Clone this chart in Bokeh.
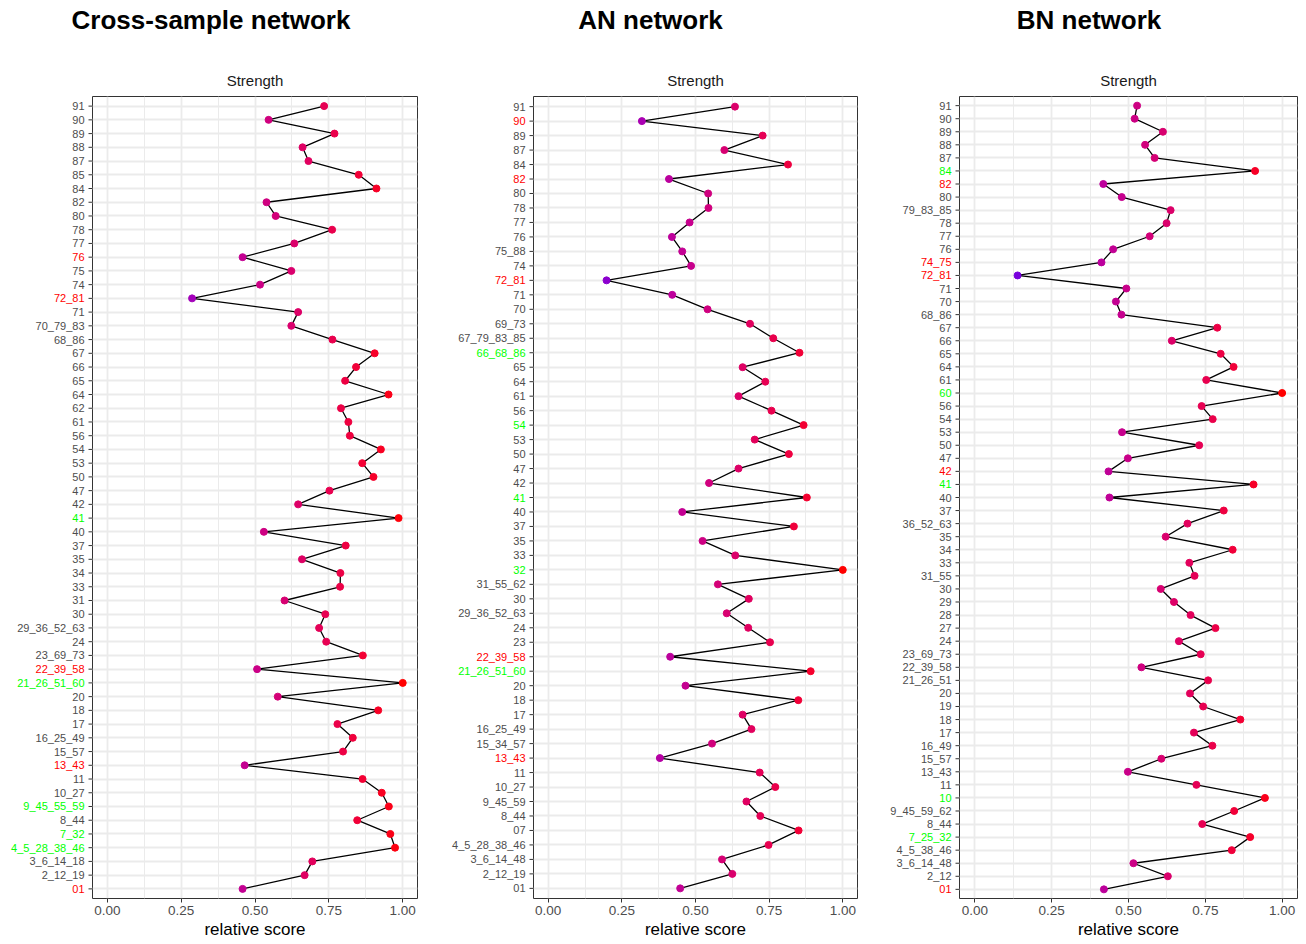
import numpy as np
from bokeh.plotting import figure
from bokeh.layouts import row, column
from bokeh.models import (ColumnDataSource, Range1d, FactorRange, Grid, CategoricalTicker,
                          FixedTicker, NumeralTickFormatter)
from bokeh.core.properties import value, field
from bokeh.embed import file_html
from bokeh.resources import INLINE

# ---------------- data (top-to-bottom as displayed) ----------------
cs_nodes = ["91", "90", "89", "88", "87", "85", "84", "82", "80", "78", "77", "76", "75", "74",
            "72_81", "71", "70_79_83", "68_86", "67", "66", "65", "64", "62", "61", "56", "54",
            "53", "50", "47", "42", "41", "40", "37", "35", "34", "33", "31", "30", "29_36_52_63",
            "24", "23_69_73", "22_39_58", "21_26_51_60", "20", "18", "17", "16_25_49", "15_57",
            "13_43", "11", "10_27", "9_45_55_59", "8_44", "7_32", "4_5_28_38_46", "3_6_14_18",
            "2_12_19", "01"]
cs_strength = [0.734, 0.546, 0.769, 0.661, 0.681, 0.851, 0.911, 0.539, 0.570, 0.761, 0.633,
               0.458, 0.623, 0.517, 0.287, 0.646, 0.623, 0.762, 0.905, 0.842, 0.805, 0.952,
               0.791, 0.816, 0.821, 0.926, 0.863, 0.901, 0.752, 0.646, 0.986, 0.530, 0.807,
               0.659, 0.789, 0.788, 0.600, 0.738, 0.717, 0.741, 0.865, 0.507, 1.000, 0.577,
               0.917, 0.779, 0.831, 0.798, 0.465, 0.864, 0.929, 0.953, 0.846, 0.958, 0.974,
               0.694, 0.668, 0.458]
cs_red = ["76", "72_81", "22_39_58", "13_43", "01"]
cs_green = ["41", "21_26_51_60", "9_45_55_59", "7_32", "4_5_28_38_46"]

an_nodes = ["91", "90", "89", "87", "84", "82", "80", "78", "77", "76", "75_88", "74", "72_81",
            "71", "70", "69_73", "67_79_83_85", "66_68_86", "65", "64", "61", "56", "54", "53",
            "50", "47", "42", "41", "40", "37", "35", "33", "32", "31_55_62", "30",
            "29_36_52_63", "24", "23", "22_39_58", "21_26_51_60", "20", "18", "17", "16_25_49",
            "15_34_57", "13_43", "11", "10_27", "9_45_59", "8_44", "07", "4_5_28_38_46",
            "3_6_14_48", "2_12_19", "01"]
an_strength = [0.634, 0.318, 0.728, 0.598, 0.814, 0.410, 0.543, 0.544, 0.480, 0.420, 0.455,
               0.485, 0.198, 0.421, 0.541, 0.685, 0.764, 0.853, 0.660, 0.737, 0.646, 0.758,
               0.867, 0.701, 0.817, 0.646, 0.546, 0.878, 0.455, 0.834, 0.524, 0.635, 1.000,
               0.576, 0.681, 0.606, 0.679, 0.753, 0.414, 0.891, 0.466, 0.849, 0.660, 0.690,
               0.556, 0.379, 0.718, 0.771, 0.673, 0.720, 0.850, 0.748, 0.590, 0.625, 0.448]
an_red = ["90", "82", "72_81", "22_39_58", "13_43"]
an_green = ["66_68_86", "54", "41", "32", "21_26_51_60"]

bn_nodes = ["91", "90", "89", "88", "87", "84", "82", "80", "79_83_85", "78", "77", "76",
            "74_75", "72_81", "71", "70", "68_86", "67", "66", "65", "64", "61", "60", "56",
            "54", "53", "50", "47", "42", "41", "40", "37", "36_52_63", "35", "34", "33",
            "31_55", "30", "29", "28", "27", "24", "23_69_73", "22_39_58", "21_26_51", "20",
            "19", "18", "17", "16_49", "15_57", "13_43", "11", "10", "9_45_59_62", "8_44",
            "7_25_32", "4_5_38_46", "3_6_14_48", "2_12", "01"]
bn_strength = [0.528, 0.520, 0.612, 0.554, 0.585, 0.912, 0.418, 0.478, 0.637, 0.624, 0.569,
               0.450, 0.412, 0.139, 0.493, 0.459, 0.477, 0.789, 0.641, 0.800, 0.842, 0.753,
               1.000, 0.738, 0.774, 0.479, 0.730, 0.498, 0.435, 0.907, 0.438, 0.810, 0.692,
               0.621, 0.839, 0.698, 0.715, 0.605, 0.648, 0.702, 0.783, 0.664, 0.735, 0.542,
               0.759, 0.700, 0.743, 0.864, 0.713, 0.773, 0.607, 0.498, 0.721, 0.944, 0.844,
               0.740, 0.896, 0.836, 0.516, 0.628, 0.420]
bn_red = ["82", "74_75", "72_81", "42", "01"]
bn_green = ["84", "60", "41", "10", "7_25_32"]

x_ticks = [0.0, 0.25, 0.5, 0.75, 1.0]
x_minor = [0.125, 0.375, 0.625, 0.875]

FONT = "Liberation Sans"


# ---------------- colour ramp (Lab interpolation blue -> red) ----------------
_M = np.array([[0.4124564, 0.3575761, 0.1804375],
               [0.2126729, 0.7151522, 0.0721750],
               [0.0193339, 0.1191920, 0.9503041]])
_W = np.array([0.95047, 1.0, 1.08883])


def _to_lab(rgb):
    c = np.array(rgb, dtype=float) / 255.0
    c = np.where(c <= 0.04045, c / 12.92, ((c + 0.055) / 1.055) ** 2.4)
    xyz = _M @ c / _W
    d = 6 / 29
    f = np.where(xyz > d ** 3, np.cbrt(xyz), xyz / (3 * d * d) + 4 / 29)
    return np.array([116 * f[1] - 16, 500 * (f[0] - f[1]), 200 * (f[1] - f[2])])


def _from_lab(lab):
    L, a, b = lab
    fy = (L + 16) / 116
    f = np.array([fy + a / 500, fy, fy - b / 200])
    d = 6 / 29
    xyz = np.where(f > d, f ** 3, 3 * d * d * (f - 4 / 29)) * _W
    c = np.linalg.solve(_M, xyz)
    c = np.clip(c, 0, 1)
    c = np.where(c <= 0.0031308, 12.92 * c, 1.055 * c ** (1 / 2.4) - 0.055)
    r, g, bb = (np.clip(np.round(c * 255), 0, 255)).astype(int)
    return "#%02x%02x%02x" % (r, g, bb)


LOW = _to_lab((0, 0, 255))
HIGH = _to_lab((255, 0, 0))


def ramp(v):
    t = min(max(v, 0.0), 1.0)
    return _from_lab(LOW + t * (HIGH - LOW))


# ---------------- geometry ----------------
TITLE_H = 94
FRAME_H = 802
TOP_B = 2
BOT_B = 46


def make_panel(title, nodes, vals, red, green, label_w, frame_w, b_right, title_cx):
    yr = FactorRange(factors=nodes[::-1], range_padding=0.2, range_padding_units="absolute")
    total_w = label_w + frame_w + b_right

    # ---- title strip ----
    t = figure(width=total_w, height=TITLE_H, x_range=Range1d(0, total_w),
               y_range=Range1d(0, TITLE_H), x_axis_type=None, y_axis_type=None,
               output_backend="svg", toolbar_location=None, min_border=0,
               outline_line_color=None, background_fill_color="white",
               border_fill_color="white")
    t.text(x=[title_cx], y=[TITLE_H - 19.5], text=[title], text_align="center",
           text_baseline="alphabetic", text_font=value(FONT), text_font_size="26px",
           text_font_style="bold", text_color="black")
    t.text(x=[label_w + frame_w / 2], y=[TITLE_H - 80], text=["Strength"],
           text_align="center", text_baseline="alphabetic", text_font=value(FONT),
           text_font_size="15px", text_color="#1A1A1A")

    # ---- y labels + ticks ----
    lf = figure(frame_width=label_w, frame_height=FRAME_H, x_range=Range1d(0, label_w),
                y_range=yr, x_axis_type=None, y_axis_type=None, output_backend="svg",
                toolbar_location=None, min_border_left=0, min_border_right=0,
                min_border_top=TOP_B, min_border_bottom=BOT_B, outline_line_color=None,
                background_fill_color="white", border_fill_color="white")
    lab_cols = ["#FF0000" if n in red else ("#00FF00" if n in green else "#4D4D4D")
                for n in nodes]
    lsrc = ColumnDataSource(dict(node=nodes, lc=lab_cols))
    lf.text(x=label_w - 8, y="node", text="node", source=lsrc, text_align="right",
            text_baseline="middle", text_color=field("lc"), text_font=value(FONT),
            text_font_size=value("11px"))
    lf.segment(x0=label_w - 4, x1=label_w, y0="node", y1="node", source=lsrc,
               line_color="#333333", line_width=1)

    # ---- main panel ----
    p = figure(frame_width=frame_w, frame_height=FRAME_H,
               x_range=Range1d(-0.05, 1.05), y_range=yr, y_axis_type=None,
               output_backend="svg", toolbar_location=None,
               min_border_left=0, min_border_right=b_right,
               min_border_top=TOP_B, min_border_bottom=BOT_B,
               background_fill_color="white", border_fill_color="white")
    p.outline_line_color = "#333333"
    p.outline_line_width = 1

    p.xgrid.grid_line_color = "#EBEBEB"
    p.xgrid.grid_line_width = 1.8
    p.xgrid.minor_grid_line_color = "#EBEBEB"
    p.xgrid.minor_grid_line_width = 1
    p.add_layout(Grid(dimension=1, ticker=CategoricalTicker(), grid_line_color="#EBEBEB",
                      grid_line_width=1.8))

    p.xaxis.ticker = FixedTicker(ticks=x_ticks, minor_ticks=x_minor)
    p.xaxis.formatter = NumeralTickFormatter(format="0.00")
    p.xaxis.axis_line_color = None
    p.xaxis.minor_tick_line_color = None
    p.xaxis.major_tick_line_color = "#333333"
    p.xaxis.major_tick_in = 0
    p.xaxis.major_tick_out = 4
    p.xaxis.major_label_standoff = 3
    p.xaxis.major_label_text_font = FONT
    p.xaxis.major_label_text_font_size = "13.5px"
    p.xaxis.major_label_text_color = "#4D4D4D"
    p.xaxis.axis_label = "relative score"
    p.xaxis.axis_label_text_font = FONT
    p.xaxis.axis_label_text_font_size = "17px"
    p.xaxis.axis_label_text_font_style = "normal"
    p.xaxis.axis_label_text_color = "black"
    p.xaxis.axis_label_standoff = 2

    colors = [ramp(v) for v in vals]
    src = ColumnDataSource(dict(node=nodes, val=vals, col=colors))
    p.line("val", "node", source=src, line_color="black", line_width=1.3)
    p.scatter("val", "node", source=src, size=7, fill_color=field("col"),
              line_color=field("col"))

    return column(t, row(lf, p, spacing=0), spacing=0)


c1 = make_panel("Cross-sample network", cs_nodes, cs_strength, cs_red, cs_green,
                92, 325, 15, 210.5)
c2 = make_panel("AN network", an_nodes, an_strength, an_red, an_green,
                101, 324, 15, 218)
c3 = make_panel("BN network", bn_nodes, bn_strength, bn_red, bn_green,
                87, 338, 1, 216.5)

layout = row(c1, c2, c3, spacing=0)
open("out.html", "w").write(file_html(layout, INLINE))
